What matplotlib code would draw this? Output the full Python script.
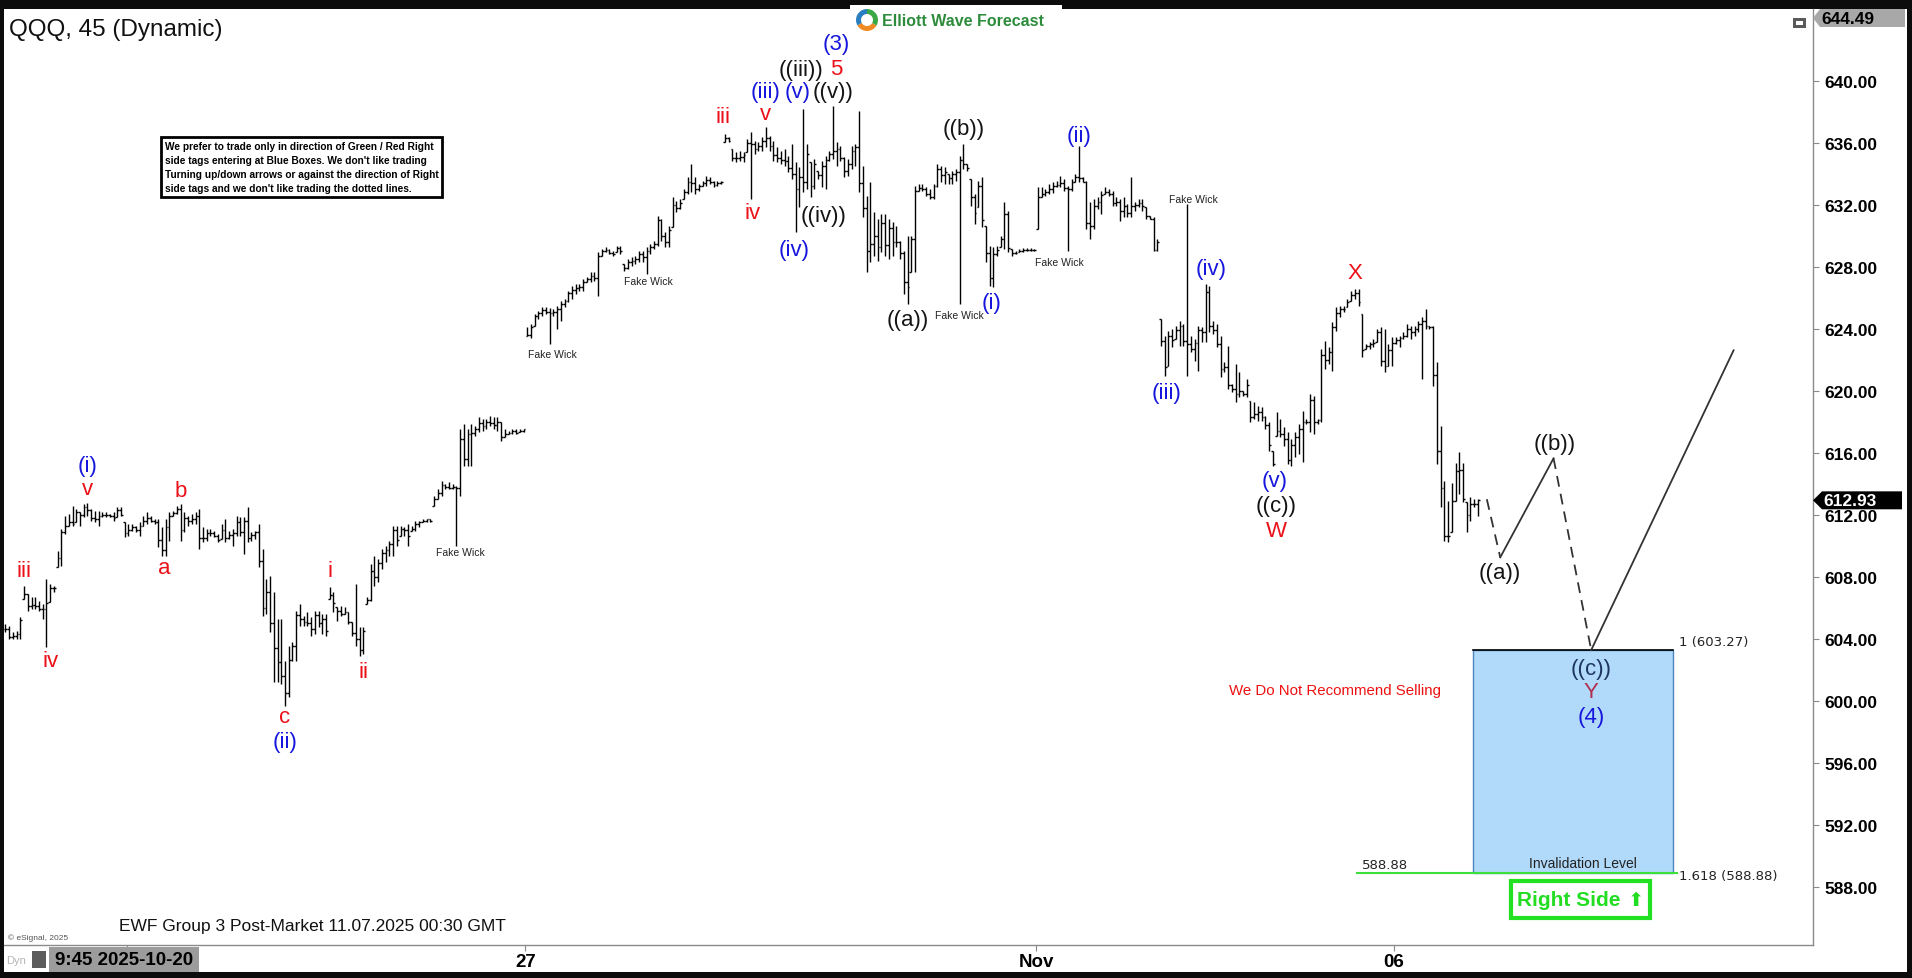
import numpy as np
import matplotlib
matplotlib.use('Agg')
import matplotlib.pyplot as plt
import matplotlib.transforms as mtransforms
from matplotlib.collections import LineCollection
from matplotlib.patches import Rectangle, Polygon, Wedge
from matplotlib import font_manager

plt.rcParams['font.family'] = ['Liberation Sans', 'DejaVu Sans']
_names = {f.name for f in font_manager.fontManager.ttflist}
HAS_NARROW = 'Liberation Sans Narrow' in _names
NARROW = ['Liberation Sans Narrow', 'DejaVu Sans'] if HAS_NARROW else ['Liberation Sans', 'DejaVu Sans']

# --- QQQ 45 min bars (high / low / close) ---
# Oct 20 - Oct 24
s1_high = [604.95, 604.84, 604.41, 604.52, 605.38, 607.42, 606.88, 606.67, 606.67, 606.45,
           606.24, 607.85, 607.53, 607.42, 609.68, 611.08, 611.94, 612.04, 612.58, 612.37,
           612.15, 612.69, 612.75, 612.37, 612.26, 612.26, 612.15, 612.15, 612.04, 612.15,
           612.48, 612.48, 611.51, 611.40, 611.40, 611.29, 611.51, 611.94, 612.15, 611.94,
           611.72, 611.72, 611.18, 611.72, 612.15, 612.26, 612.58, 612.69, 612.15, 611.94,
           612.04, 612.15, 612.37, 611.18, 611.08, 611.08, 610.97, 610.76, 611.40, 611.72,
           610.97, 611.08, 611.94, 611.83, 611.83, 612.48, 610.86, 610.97, 611.40, 609.79,
           607.85, 608.07, 606.99, 605.27, 605.27, 602.58, 603.55, 603.77, 605.81, 606.24,
           605.49, 605.70, 605.38, 605.81, 605.81, 605.59, 605.59, 607.31, 606.99, 606.02,
           606.13, 606.02, 605.70, 605.06, 607.53, 604.73, 604.73, 606.67, 608.82, 609.36,
           609.14, 609.79, 610.00, 610.32, 611.29, 611.29, 611.29, 611.18, 611.40, 611.29,
           611.62, 611.62, 611.72, 611.72, 611.72, 613.23, 613.66, 614.20, 613.98, 614.09,
           613.98, 613.87, 617.53, 617.85, 617.53, 617.85, 617.74, 618.28, 618.17, 618.17,
           618.39, 618.28, 618.28, 617.96, 617.53, 617.42, 617.53, 617.53, 617.53, 617.53]
s1_low = [604.41, 603.98, 603.98, 603.98, 603.98, 606.56, 605.81, 605.92, 605.92, 605.81,
          605.27, 603.44, 606.35, 606.99, 608.61, 608.71, 610.76, 611.29, 611.29, 611.51,
          611.29, 611.83, 611.94, 611.62, 611.51, 611.29, 611.83, 611.83, 611.83, 611.62,
          611.83, 611.94, 610.54, 610.65, 610.97, 610.86, 610.65, 611.29, 611.40, 611.51,
          611.40, 609.89, 609.36, 609.36, 610.32, 611.94, 612.04, 610.32, 610.86, 611.29,
          611.40, 611.40, 609.79, 610.22, 610.32, 610.65, 610.54, 610.22, 610.43, 610.22,
          610.43, 610.00, 610.65, 610.65, 609.46, 610.22, 610.32, 610.43, 608.61, 605.49,
          605.59, 604.41, 601.19, 601.19, 601.08, 599.68, 600.22, 602.58, 602.58, 604.84,
          604.84, 604.84, 604.20, 604.30, 604.73, 604.30, 604.20, 606.56, 605.70, 605.16,
          605.49, 605.59, 604.95, 604.20, 603.55, 602.91, 603.01, 606.24, 606.45, 607.42,
          607.64, 608.50, 608.93, 609.36, 609.36, 610.00, 610.65, 610.65, 610.00, 610.97,
          610.97, 611.18, 611.51, 611.51, 611.51, 612.58, 613.01, 613.23, 613.66, 613.66,
          613.66, 610.00, 613.23, 615.16, 615.16, 615.16, 617.10, 617.31, 617.42, 617.53,
          617.74, 617.53, 617.42, 616.78, 616.99, 617.21, 617.21, 617.21, 617.31, 617.31]
s1_close = [604.6, 604.1, 604.2, 604.3, 605.2, 606.9, 606.1, 606.2, 606.1, 605.9,
            605.9, 606.3, 607.3, 607.3, 609.2, 610.9, 611.3, 611.5, 611.4, 612.2,
            612.0, 612.5, 612.3, 611.8, 611.7, 611.9, 612.0, 612.0, 611.9, 611.8,
            612.3, 612.0, 610.8, 611.0, 611.2, 611.0, 611.3, 611.6, 611.8, 611.6,
            611.5, 610.4, 609.7, 611.2, 611.9, 612.1, 612.4, 611.0, 611.8, 611.6,
            611.7, 611.9, 610.5, 610.5, 610.8, 610.8, 610.6, 610.4, 611.0, 610.5,
            610.7, 610.8, 611.5, 610.9, 611.6, 610.5, 610.7, 610.9, 609.0, 606.0,
            607.0, 605.0, 603.4, 602.5, 601.6, 600.5, 602.6, 603.5, 605.5, 605.3,
            605.1, 605.0, 604.6, 605.5, 605.0, 605.3, 604.5, 606.8, 606.3, 605.8,
            605.6, 605.7, 605.1, 604.4, 604.0, 603.3, 604.5, 606.5, 608.4, 608.0,
            608.9, 609.5, 609.7, 610.1, 611.0, 610.4, 611.1, 611.0, 610.6, 611.1,
            611.4, 611.5, 611.6, 611.7, 611.6, 613.0, 613.4, 613.9, 613.8, 613.7,
            613.8, 613.7, 616.9, 615.6, 617.2, 617.3, 617.5, 617.9, 617.7, 618.0,
            617.9, 617.8, 618.0, 617.0, 617.2, 617.3, 617.4, 617.3, 617.4, 617.5]

# Oct 27 - Oct 31
s2_high = [624.09, 624.30, 624.95, 625.16, 625.38, 625.38, 625.31, 625.27, 625.49, 625.81,
           625.92, 626.45, 626.78, 626.88, 626.88, 627.21, 627.31, 627.64, 627.64, 628.93,
           629.14, 629.25, 629.14, 629.04, 629.36, 629.36, 628.17, 628.50, 628.60, 628.71,
           629.04, 629.04, 629.25, 629.47, 629.68, 631.29, 631.08, 630.22, 630.65, 632.48,
           632.26, 632.37, 633.01, 633.77, 634.63, 633.77, 633.34, 633.55, 633.83, 633.77,
           633.55, 633.55, 633.55, 636.56, 636.35, 635.59, 635.38, 635.49, 635.38, 636.24,
           636.67, 636.13, 636.02, 636.35, 636.99, 636.45, 636.13, 635.70, 635.49, 635.59,
           635.16, 635.92, 634.73, 634.41, 638.17, 635.92, 634.73, 634.95, 634.20, 634.84,
           635.16, 635.49, 638.39, 636.02, 635.81, 635.06, 634.95, 635.81, 635.92, 638.07,
           634.52, 632.58, 633.44, 631.51, 631.08, 631.40, 631.40, 631.08, 630.86, 630.65,
           629.68, 629.04, 630.00, 630.00, 633.23, 633.34, 633.34, 633.12, 633.01, 633.34,
           634.63, 634.52, 634.41, 633.98, 634.20, 634.30, 635.16, 635.92, 634.63, 633.66,
           632.69, 633.55, 633.77, 630.65, 629.36, 629.25, 629.36, 630.00, 632.15, 631.62,
           629.14, 629.04, 629.14, 629.19, 629.19, 629.19, 629.14]
s2_low = [623.51, 623.38, 624.20, 624.63, 624.84, 624.95, 623.01, 624.84, 623.98, 624.52,
          625.38, 625.70, 625.92, 626.24, 626.45, 626.45, 626.99, 626.99, 627.10, 626.13,
          628.71, 628.93, 628.82, 628.71, 628.93, 628.82, 627.74, 627.85, 628.07, 628.17,
          628.28, 628.28, 627.53, 628.82, 629.14, 629.36, 629.68, 629.25, 629.25, 630.54,
          631.51, 631.72, 632.37, 632.69, 632.80, 632.69, 632.91, 633.23, 633.23, 633.34,
          633.12, 633.23, 633.34, 636.02, 636.02, 634.84, 634.73, 634.84, 634.73, 635.38,
          632.37, 635.27, 635.49, 635.49, 635.70, 635.49, 634.84, 634.73, 634.63, 634.52,
          634.09, 633.66, 630.22, 631.83, 632.80, 633.01, 632.48, 633.01, 633.66, 633.12,
          633.01, 634.84, 634.95, 634.52, 634.84, 633.77, 633.87, 634.30, 634.52, 632.80,
          631.19, 627.64, 628.28, 628.71, 628.39, 628.93, 628.71, 628.50, 628.71, 629.25,
          628.50, 626.24, 625.59, 627.64, 627.64, 632.91, 632.91, 632.58, 632.37, 632.37,
          633.12, 633.44, 633.34, 633.34, 633.34, 633.55, 625.59, 634.30, 634.20, 631.94,
          630.76, 631.83, 630.54, 628.28, 626.78, 626.67, 628.71, 629.25, 629.14, 628.93,
          628.71, 628.82, 628.93, 628.97, 629.04, 629.02, 629.04]
s2_close = [623.6, 624.1, 624.8, 625.0, 625.2, 625.1, 625.0, 625.1, 625.3, 625.6,
            625.8, 626.3, 626.5, 626.6, 626.7, 627.0, 627.2, 627.4, 627.3, 628.7,
            629.0, 629.1, 628.9, 628.8, 629.2, 629.0, 627.9, 628.3, 628.4, 628.5,
            628.8, 628.6, 629.0, 629.3, 629.5, 631.0, 630.0, 629.6, 630.4, 632.0,
            631.8, 632.1, 632.8, 633.5, 633.4, 633.0, 633.2, 633.4, 633.6, 633.5,
            633.3, 633.4, 633.5, 636.3, 636.1, 635.0, 635.0, 635.1, 635.2, 636.0,
            635.9, 635.6, 635.8, 636.1, 636.3, 635.8, 635.2, 635.0, 634.9, 634.8,
            634.4, 634.0, 633.0, 633.8, 633.5, 635.3, 633.2, 634.6, 633.9, 634.5,
            634.9, 635.3, 635.5, 635.6, 635.0, 634.2, 634.6, 635.5, 635.7, 633.4,
            631.8, 629.0, 629.5, 630.0, 629.3, 630.8, 629.4, 630.5, 629.6, 629.6,
            628.9, 627.0, 626.7, 629.8, 632.9, 633.1, 633.0, 632.7, 632.5, 633.2,
            634.3, 633.9, 634.1, 633.7, 634.0, 634.1, 634.9, 634.6, 634.4, 632.5,
            631.5, 633.2, 631.0, 628.9, 627.3, 628.8, 629.1, 629.8, 631.4, 629.2,
            628.9, 628.9, 629.0, 629.1, 629.1, 629.1, 629.1]

# Nov 3
s3_high = [633.12, 633.12, 633.01, 633.33, 633.44, 633.55, 633.87, 633.65, 633.22, 633.65,
           633.98, 635.80, 633.76, 633.55, 632.15, 632.37, 632.47, 632.90, 633.12, 633.01,
           632.90, 632.47, 632.37, 632.47, 632.04, 633.76, 632.15, 632.37, 632.37, 631.83,
           631.29, 631.18, 629.78]
s3_low = [630.43, 632.47, 632.58, 632.69, 632.79, 633.12, 633.12, 632.90, 629.03, 632.90,
          633.44, 633.44, 633.44, 630.43, 629.78, 630.43, 631.72, 631.40, 632.69, 632.58,
          631.93, 631.93, 630.97, 631.18, 631.18, 631.18, 631.61, 631.83, 631.61, 631.07,
          631.07, 629.03, 629.03]
s3_close = [632.5, 632.7, 632.8, 633.0, 633.2, 633.3, 633.4, 633.1, 633.0, 633.5,
            633.8, 633.7, 633.5, 630.8, 630.6, 631.9, 632.2, 632.6, 632.8, 632.7,
            632.1, 632.2, 631.6, 631.9, 631.5, 631.9, 632.0, 632.1, 631.9, 631.3,
            631.1, 629.1, 629.6]

# Nov 4 - Nov 6 pre-market
s4_high = [624.63, 623.55, 623.87, 623.98, 624.20, 624.52, 624.30, 632.05, 623.55, 623.34,
           624.20, 624.09, 626.88, 626.78, 624.52, 624.30, 623.55, 621.83, 622.91, 620.43,
           621.72, 621.19, 620.00, 620.75, 619.36, 619.25, 619.03, 618.93, 618.39, 617.96,
           616.13, 618.60, 618.17, 617.64, 617.31, 616.89, 617.31, 617.85, 618.71, 618.17,
           619.79, 619.68, 618.17, 622.69, 623.23, 622.80, 624.41, 625.38, 625.49, 625.49,
           625.92, 626.45, 626.56, 626.56, 624.95, 623.01, 623.12, 623.34, 623.98, 624.09,
           623.98, 623.01, 623.44, 623.44, 623.55, 623.77, 624.30, 624.20, 624.20, 624.52,
           624.73, 625.27, 624.20, 624.20]
s4_low = [622.91, 620.97, 621.62, 622.80, 623.34, 622.91, 622.91, 620.97, 622.48, 621.94,
          621.29, 623.12, 623.12, 623.77, 623.66, 622.80, 620.86, 621.19, 620.11, 619.89,
          619.25, 619.57, 619.68, 619.57, 617.96, 618.17, 618.07, 618.07, 617.53, 616.13,
          615.16, 617.10, 617.00, 616.46, 615.27, 615.16, 615.70, 615.92, 615.38, 617.85,
          617.31, 617.21, 617.85, 617.96, 621.40, 621.72, 621.29, 623.87, 624.73, 625.06,
          625.38, 625.81, 625.92, 625.49, 622.15, 622.69, 622.69, 622.80, 623.12, 621.62,
          621.19, 621.62, 621.62, 623.01, 622.80, 623.34, 623.44, 623.34, 623.55, 623.77,
          620.75, 623.98, 623.98, 620.32]
s4_close = [623.2, 621.5, 623.5, 623.3, 623.9, 624.2, 623.2, 623.0, 622.7, 623.1,
            623.9, 623.8, 626.4, 624.2, 623.9, 623.0, 621.4, 621.5, 620.4, 620.1,
            619.8, 620.0, 619.8, 620.4, 618.3, 618.5, 618.6, 618.3, 617.8, 616.5,
            615.3, 617.4, 617.2, 616.9, 615.5, 616.5, 617.0, 617.5, 618.0, 618.0,
            619.4, 618.0, 618.1, 622.3, 622.0, 622.5, 624.1, 625.0, 625.3, 625.3,
            625.7, 626.2, 626.3, 625.7, 622.6, 622.9, 623.0, 623.1, 623.8, 621.9,
            621.6, 622.6, 623.1, 623.3, 623.4, 623.5, 624.0, 623.8, 624.0, 624.3,
            624.5, 624.2, 624.1, 621.0]

# Nov 6 session
s5_high = [621.83, 617.74, 614.19, 612.90, 614.08, 615.37, 616.08, 615.37, 612.79, 613.12, 613.01, 613.01]
s5_low = [615.27, 612.47, 610.32, 610.26, 610.86, 612.90, 613.33, 612.79, 610.86, 611.61, 612.47, 611.93]
s5_close = [616.1, 613.7, 610.6, 610.6, 612.9, 614.8, 614.9, 613.0, 612.0, 612.7, 612.7, 612.93]

last_price = 612.93
top_price = 644.49

# x axis (bar slots)
date_ticks = [32.5, 139.5, 276.5, 372.5]
date_labels = ['', '27', 'Nov', '06']
price_ticks = [588, 592, 596, 600, 604, 608, 612, 616, 620, 624, 628, 632, 636, 640]

# Elliott wave labels: text, bar slot, price, colour
RED, BLUE, BLACK = '#ea1118', '#1616dc', '#141414'
wave_labels = [
    ('iii', 5, 608.4, RED), ('iv', 12, 602.6, RED), ('(i)', 22, 615.2, BLUE), ('v', 22, 613.7, RED),
    ('a', 42.5, 608.6, RED), ('b', 47, 613.55, RED), ('c', 75, 599.0, RED), ('(ii)', 75, 597.4, BLUE),
    ('i', 87, 608.4, RED), ('ii', 96, 601.9, RED),
    ('iii', 192.5, 637.7, RED), ('iv', 200.3, 631.5, RED), ('v', 204, 637.9, RED),
    ('(iii)', 204, 639.3, BLUE), ('(iv)', 211.7, 629.1, BLUE), ('(v)', 212.5, 639.3, BLUE),
    ('((iii))', 213.3, 640.75, BLACK), ('((iv))', 219.5, 631.3, BLACK), ('((v))', 222, 639.3, BLACK),
    ('5', 223, 640.8, RED), ('(3)', 223, 642.4, BLUE),
    ('((a))', 242, 624.6, BLACK), ('((b))', 257, 636.9, BLACK), ('(i)', 264.6, 625.7, BLUE),
    ('(ii)', 288, 636.5, BLUE), ('(iii)', 311.5, 619.9, BLUE), ('(iv)', 323.5, 627.9, BLUE),
    ('(v)', 340.5, 614.2, BLUE), ('((c))', 341, 612.6, BLACK), ('W', 341, 611.0, RED),
    ('X', 362, 627.6, RED),
    ('((a))', 400.8, 608.3, BLACK), ('((b))', 415.5, 616.6, BLACK),
    ('((c))', 425.3, 602.1, '#1c3560'), ('Y', 425.3, 600.6, '#b0304e'), ('(4)', 425.3, 599.0, BLUE),
]
fake_wicks = [(122, 609.6), (146.7, 622.4), (172.5, 627.1), (256, 624.9), (282.7, 628.3), (318.7, 632.4)]

# projected path and blue box
path_x = [397.4, 401.0, 415.3, 425.4, 463.6]
path_y = [613.0, 609.25, 615.64, 603.27, 622.61]
box_x = (393.6, 447.4)
box_top, box_bottom = 603.27, 588.88

high = np.array(s1_high + s2_high + s3_high + s4_high + s5_high)
low = np.array(s1_low + s2_low + s3_low + s4_low + s5_low)
close = np.array(s1_close + s2_close + s3_close + s4_close + s5_close)
opn = np.clip(np.r_[close[0], close[:-1]], low, high)
idx = np.arange(len(high))

W, H = 1912, 979
fig = plt.figure(figsize=(W / 100, H / 100), dpi=100, facecolor='#0c0c0c')


def fx(x):
    return x / W


def fy(y):
    return 1 - y / H


fig.patches.append(Rectangle((fx(4), fy(973)), (1907 - 4) / W, (973 - 10) / H,
                             transform=fig.transFigure, fc='white', ec='none', zorder=-5))

ax = fig.add_axes([fx(4), fy(946), (1813 - 4) / W, (946 - 10) / H])
ax.set_facecolor('white')
ax.set_xlim(-0.38, 484.9)
ax.set_ylim(584.24, 644.63)

# OHLC bars
segs = []
for i in idx:
    segs.append([(i, low[i]), (i, high[i])])
    segs.append([(i - 0.48, opn[i]), (i, opn[i])])
    segs.append([(i, close[i]), (i + 0.48, close[i])])
ax.add_collection(LineCollection(segs, colors='black', linewidths=1.0, zorder=3))

# wave labels
for txt, x, y, c in wave_labels:
    ax.text(x, y, txt, color=c, fontsize=16, ha='center', va='center', zorder=5)
for x, y in fake_wicks:
    ax.text(x, y, 'Fake Wick', color='#222222', fontsize=7.5, ha='center', va='center', zorder=5)

# blue box
ax.add_patch(Rectangle((box_x[0], box_bottom), box_x[1] - box_x[0], box_top - box_bottom,
                       fc='#b1d9fa', ec='#4b86bd', lw=1, zorder=1))
ax.plot(box_x, [box_top, box_top], color='black', lw=1.2, zorder=2)
ax.plot([362.5, 448.5], [box_bottom, box_bottom], color='#3be03b', lw=1.5, zorder=2)
ax.text(423.1, 589.5, 'Invalidation Level', fontsize=10, ha='center', va='center', color='#222222')
ax.text(363.8, 589.45, '588.88', fontsize=9.5, ha='left', va='center', color='#222222',
        family=['DejaVu Sans'])
ax.text(448.9, 603.8, '1 (603.27)', fontsize=9.5, ha='left', va='center', color='#222222',
        family=['DejaVu Sans'])
ax.text(448.9, 588.7, '1.618 (588.88)', fontsize=9.5, ha='left', va='center', color='#222222',
        family=['DejaVu Sans'])

# projected path
for k in range(4):
    ls = (0, (6, 4)) if k % 2 == 0 else '-'
    ax.plot(path_x[k:k + 2], path_y[k:k + 2], color='#333333', lw=1.3, ls=ls, zorder=4)

ax.text(356.7, 600.67, 'We Do Not Recommend Selling', color='#ee1111',
        fontsize=13 if HAS_NARROW else 10.8, family=NARROW, ha='center', va='center')

# Right Side tag
ax.add_patch(Rectangle((403.9, 585.95), 441.2 - 403.9, 588.37 - 585.95, fc='white',
                       ec='#22e022', lw=3, zorder=4, clip_on=False))
ax.text(419.3, 587.15, 'Right Side', color='#22dd22', fontsize=18 if HAS_NARROW else 15,
        fontweight='bold', family=NARROW, ha='center', va='center', zorder=5)
ax.text(437.4, 587.2, '\u2b06', color='#22dd22', fontsize=14, family=['DejaVu Sans'],
        ha='center', va='center', zorder=5)

# axes styling
for s in ('top', 'left'):
    ax.spines[s].set_visible(False)
for s in ('right', 'bottom'):
    ax.spines[s].set_color('#8a8a8a')
    ax.spines[s].set_linewidth(1.0)
ax.yaxis.tick_right()
ax.set_yticks(price_ticks)
ax.set_yticklabels(['%.2f' % v for v in price_ticks])
ax.tick_params(axis='y', length=4, color='#8a8a8a', pad=4, labelsize=12.5)
for lbl in ax.get_yticklabels():
    lbl.set_fontweight('bold')
ax.set_xticks(date_ticks)
ax.set_xticklabels(date_labels)
ax.tick_params(axis='x', length=4, color='#8a8a8a', pad=2, labelsize=13.5)
for lbl in ax.get_xticklabels():
    lbl.set_fontweight('bold')
    lbl.set_family(NARROW)

# last price tag
bt = mtransforms.blended_transform_factory(ax.transAxes, ax.transData)
ax.add_patch(Polygon([(1.0, last_price), (1.005, last_price + 0.58), (1.0492, last_price + 0.58),
                      (1.0492, last_price - 0.58), (1.005, last_price - 0.58)],
                     closed=True, transform=bt, fc='black', ec='none', clip_on=False, zorder=6))
ax.text(1.0055, last_price, '%.2f' % last_price, transform=bt, color='white', fontsize=12.5,
        fontweight='bold', ha='left', va='center', clip_on=False, zorder=7)

# top price tag
fig.patches.append(Polygon([(fx(1813), fy(19)), (fx(1820), fy(10)), (fx(1905), fy(10)),
                            (fx(1905), fy(28)), (fx(1820), fy(28))], closed=True,
                           transform=fig.transFigure, fc='#a8a8a8', ec='none', zorder=3))
fig.text(fx(1821), fy(19), '%.2f' % top_price, fontsize=12.5, fontweight='bold', ha='left',
         va='center', zorder=4)

# small window icon
fig.patches.append(Rectangle((fx(1793), fy(29)), 13 / W, 10 / H, transform=fig.transFigure,
                             fc='#5a5a5a', ec='none', zorder=3))
fig.patches.append(Rectangle((fx(1796), fy(26)), 7 / W, 4 / H, transform=fig.transFigure,
                             fc='white', ec='none', zorder=4))

# titles and captions
fig.text(fx(9), fy(30), 'QQQ, 45 (Dynamic)', fontsize=17.5, ha='left', va='center', color='#111111')
fig.text(fx(119), fy(927), 'EWF Group 3 Post-Market 11.07.2025 00:30 GMT', fontsize=12.5,
         ha='left', va='center', color='#111111')
fig.text(fx(8), fy(938), '\u00a9 eSignal, 2025', fontsize=6, ha='left', va='center', color='#555555')

# logo
fig.patches.append(Rectangle((fx(850), fy(32)), 212 / W, 26 / H, transform=fig.transFigure,
                             fc='white', ec='none', zorder=3))
for a0, a1, col in [(90, 210, '#2a7fc1'), (210, 330, '#f08a24'), (330, 450, '#3aa845')]:
    fig.patches.append(Wedge((867, 979 - 21), 11, a0, a1, width=5, transform=None,
                             fc=col, ec='none', zorder=4))
fig.text(fx(882), fy(21), 'Elliott Wave Forecast', color='#2d8c3c', fontweight='bold',
         fontsize=13.5 if HAS_NARROW else 11.5, family=NARROW, ha='left', va='center', zorder=5)

# disclaimer box
note = ("We prefer to trade only in direction of Green / Red Right\n"
        "side tags entering at Blue Boxes. We don't like trading\n"
        "Turning up/down arrows or against the direction of Right\n"
        "side tags and we don't like trading the dotted lines.")
fig.text(fx(165), fy(142), note, fontsize=8.9 if HAS_NARROW else 7.3, fontweight='bold',
         family=NARROW, ha='left', va='top', linespacing=1.5,
         bbox=dict(boxstyle='square,pad=0.35', fc='white', ec='black', lw=2))

# bottom-left date box
fig.patches.append(Rectangle((fx(49), fy(973)), 150 / W, 25 / H, transform=fig.transFigure,
                             fc='#9c9c9c', ec='none', zorder=3))
fig.text(fx(124), fy(961), '9:45 2025-10-20', fontsize=13.5, fontweight='bold', family=NARROW,
         ha='center', va='center', zorder=4)
fig.text(fx(6), fy(961), 'Dyn', fontsize=8, color='#b5b5b5', ha='left', va='center')
fig.patches.append(Rectangle((fx(32), fy(969)), 14 / W, 17 / H, transform=fig.transFigure,
                             fc='#5c5c5c', ec='none', zorder=3))

fig.savefig('out.png', dpi=100, facecolor=fig.get_facecolor())
